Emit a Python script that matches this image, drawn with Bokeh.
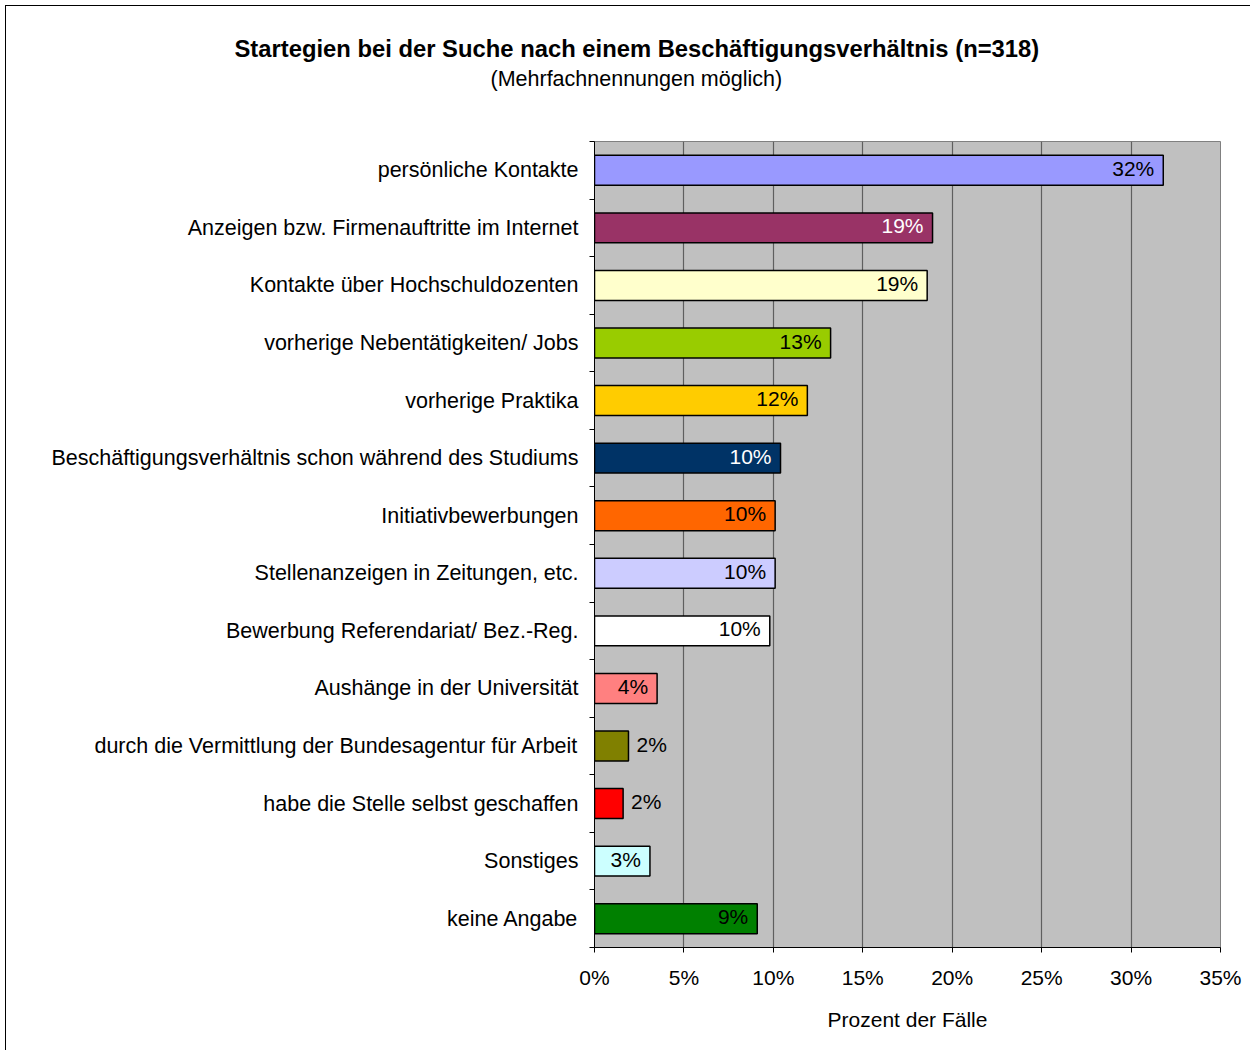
from bokeh.plotting import figure
from bokeh.models import Range1d, FixedTicker, Title, ColumnDataSource
from bokeh.embed import file_html
from bokeh.resources import INLINE
from bokeh.core.properties import value

categories = [
    "persönliche Kontakte",
    "Anzeigen bzw. Firmenauftritte im Internet",
    "Kontakte über Hochschuldozenten",
    "vorherige Nebentätigkeiten/ Jobs",
    "vorherige Praktika",
    "Beschäftigungsverhältnis schon während des Studiums",
    "Initiativbewerbungen",
    "Stellenanzeigen in Zeitungen, etc.",
    "Bewerbung Referendariat/ Bez.-Reg.",
    "Aushänge in der Universität",
    "durch die Vermittlung der Bundesagentur für Arbeit",
    "habe die Stelle selbst geschaffen",
    "Sonstiges",
    "keine Angabe",
]
values = [31.8, 18.9, 18.6, 13.2, 11.9, 10.4, 10.1, 10.1, 9.8, 3.5, 1.9, 1.6, 3.1, 9.1]
value_labels = ["32%", "19%", "19%", "13%", "12%", "10%", "10%", "10%", "10%", "4%", "2%", "2%", "3%", "9%"]
colors = ["#9999FF", "#993366", "#FFFFCC", "#99CC00", "#FFCC00", "#003366", "#FF6600",
          "#CCCCFF", "#FFFFFF", "#FF8080", "#808000", "#FF0000", "#CCFFFF", "#008000"]
label_colors = ["black", "white", "black", "black", "black", "white", "black",
                "black", "black", "black", "black", "black", "black", "black"]
x_ticks = [0, 5, 10, 15, 20, 25, 30, 35]
x_tick_labels = ["0%", "5%", "10%", "15%", "20%", "25%", "30%", "35%"]

title_text = "Startegien bei der Suche nach einem Beschäftigungsverhältnis (n=318)"
subtitle_text = "(Mehrfachnennungen möglich)"
x_axis_title = "Prozent der Fälle"

FONT = "Liberation Sans"
n = len(categories)
ypos = list(range(1, n + 1))

W, H = 1250, 1050
FL, FT, FR, FB = 594, 141, 1220, 947   # frame edges in canvas pixels
XMAX = 35

inside = [v >= 2.5 for v in values]

p = figure(width=W, height=H,
           x_range=Range1d(0, XMAX), y_range=Range1d(n + 0.5, 0.5),
           output_backend="svg", toolbar_location=None,
           min_border_left=FL, min_border_right=W - FR,
           min_border_top=FT, min_border_bottom=H - FB)

p.background_fill_color = "#C0C0C0"
p.border_fill_color = None
p.outline_line_color = "#808080"
p.styles = {
    "background": "linear-gradient(#000, #000) 5px 5px / 1px 100% no-repeat, "
                  "linear-gradient(#000, #000) 5px 5px / 100% 1px no-repeat, white"
}

src = ColumnDataSource(dict(y=ypos, v=values, color=colors))
p.hbar(y="y", left=0, right="v", height=0.52, fill_color="color",
       line_color="black", line_width=1.5, source=src)

src_in = ColumnDataSource(dict(
    y=[y for y, i in zip(ypos, inside) if i],
    v=[v for v, i in zip(values, inside) if i],
    t=[t for t, i in zip(value_labels, inside) if i],
    c=[c for c, i in zip(label_colors, inside) if i]))
src_out = ColumnDataSource(dict(
    y=[y for y, i in zip(ypos, inside) if not i],
    v=[v for v, i in zip(values, inside) if not i],
    t=[t for t, i in zip(value_labels, inside) if not i],
    c=[c for c, i in zip(label_colors, inside) if not i]))
p.text(x="v", y="y", text="t", text_color="c", source=src_in,
       text_align="right", text_baseline="middle", x_offset=-9, y_offset=-2,
       text_font=value(FONT), text_font_size="21px")
p.text(x="v", y="y", text="t", text_color="c", source=src_out,
       text_align="left", text_baseline="middle", x_offset=8, y_offset=-2,
       text_font=value(FONT), text_font_size="21px")

# y axis
p.yaxis.ticker = FixedTicker(ticks=ypos, minor_ticks=[i + 0.5 for i in range(0, n + 1)])
p.yaxis.major_label_overrides = {y: c for y, c in zip(ypos, categories)}
p.yaxis.major_tick_out = 0
p.yaxis.major_tick_in = 0
p.yaxis.minor_tick_out = 5
p.yaxis.minor_tick_in = 0
p.yaxis.minor_tick_line_color = "black"
p.yaxis.axis_line_color = "black"
p.yaxis.major_label_standoff = 11
p.yaxis.major_label_text_font = FONT
p.yaxis.major_label_text_font_size = "21.5px"
p.yaxis.major_label_text_color = "black"

# x axis
p.xaxis.ticker = FixedTicker(ticks=x_ticks)
p.xaxis.major_label_overrides = {t: l for t, l in zip(x_ticks, x_tick_labels)}
p.xaxis.major_tick_out = 5
p.xaxis.major_tick_in = 0
p.xaxis.minor_tick_line_color = None
p.xaxis.axis_line_color = "black"
p.xaxis.major_tick_line_color = "black"
p.xaxis.major_label_standoff = 13
p.xaxis.major_label_text_font = FONT
p.xaxis.major_label_text_font_size = "21px"
p.xaxis.major_label_text_color = "black"
p.xaxis.axis_label = x_axis_title
p.xaxis.axis_label_text_font = FONT
p.xaxis.axis_label_text_font_size = "21px"
p.xaxis.axis_label_text_font_style = "normal"
p.xaxis.axis_label_text_color = "black"
p.xaxis.axis_label_standoff = 16

p.xgrid.ticker = FixedTicker(ticks=x_ticks)
p.xgrid.grid_line_color = "#5f5f5f"
p.xgrid.grid_line_width = 1.2
p.ygrid.grid_line_color = None

# title stack above the plot area: spacer (closest), subtitle, title
p.add_layout(Title(text=" ", text_font=FONT, text_font_size="10px",
                   standoff=38), "above")
p.add_layout(Title(text=subtitle_text, align="left", offset=490 - FL, standoff=0,
                   text_font=FONT, text_font_size="21.5px", text_font_style="normal",
                   text_color="black"), "above")
p.add_layout(Title(text=title_text, align="left", offset=234 - FL, standoff=5,
                   text_font=FONT, text_font_size="23.8px", text_font_style="bold",
                   text_color="black"), "above")

open("out.html", "w").write(file_html(p, INLINE))
